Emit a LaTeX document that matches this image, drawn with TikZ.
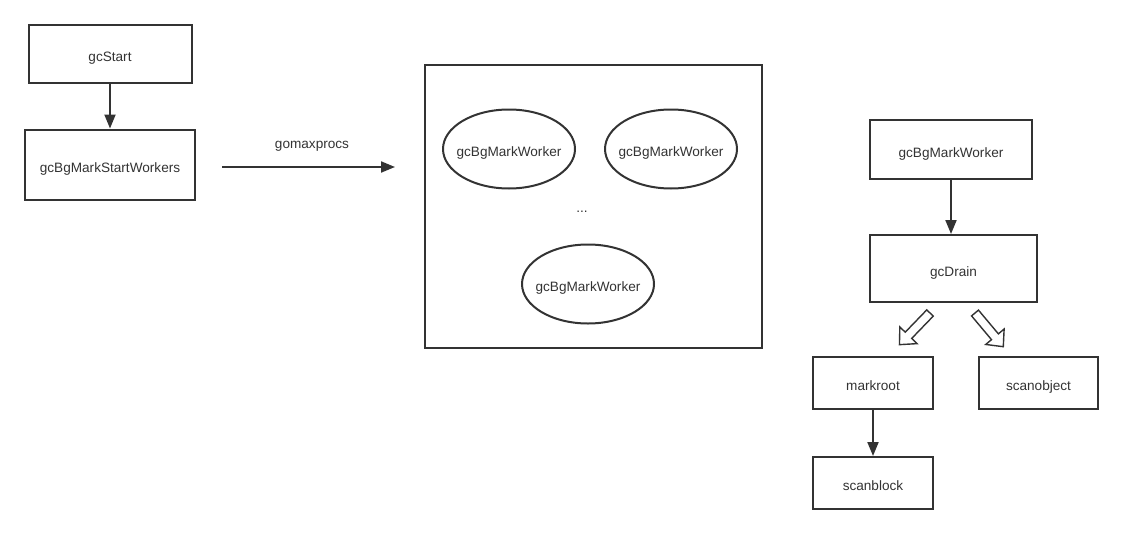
\documentclass[tikz,border=0pt]{standalone}
\usepackage{fontspec}
\setmainfont{Liberation Sans}
\usetikzlibrary{arrows.meta,shapes.geometric}
\definecolor{ink}{HTML}{333333}
\tikzset{
  box/.style={draw=ink, line width=2pt, text=ink, minimum width=#1, inner sep=0pt, text height=15pt, text depth=0pt},
  worker/.style={ellipse, draw=ink, line width=2pt, text=ink, minimum width=132pt, minimum height=79pt, inner sep=0pt, text height=14pt, text depth=0pt},
  flow/.style={draw=ink, line width=2pt, -{Triangle[length=14pt,width=11pt]}},
  label/.style={text=ink, anchor=base}
}
% hollow arrow: start point, angle
\newcommand{\hollowarrow}[2]{%
  \draw[ink, line width=1.4pt, fill=white, shift={(#1)}, rotate=#2]
    (0,-4.5) -- (31,-4.5) -- (31,-12) -- (44,0) -- (31,12) -- (31,4.5) -- (0,4.5) -- cycle;}
\begin{document}
\begin{tikzpicture}[x=1pt,y=-1pt,font=\fontsize{13.6pt}{16pt}\selectfont]
  \useasboundingbox (0,0) rectangle (1123,535);
  % left side
  \node[box=163pt, minimum height=58pt] (start) at (110,54) {gcStart};
  \node[box=170pt, minimum height=70pt] (workers) at (110,164.5) {gcBgMarkStartWorkers};
  \draw[flow] (start) -- (workers);
  \coordinate (from) at (222,167);
  \coordinate (to) at (395,167);
  \draw[flow] (from) -- (to);
  \node[label] (procs) at (312,148) {gomaxprocs};
  % worker pool
  \node[box=337pt, minimum height=283pt] (pool) at (593.5,206.5) {};
  \node[worker] (w1) at (509,149) {\makebox[0pt]{gcBgMarkWorker}};
  \node[worker] (w2) at (671,149) {\makebox[0pt]{gcBgMarkWorker}};
  \node[worker] (w3) at (588,284) {\makebox[0pt]{gcBgMarkWorker}};
  \node[label] (dots) at (582,212) {...};
  % right side
  \node[box=162pt, minimum height=59pt] (bg) at (951,149.5) {gcBgMarkWorker};
  \node[box=167pt, minimum height=67pt] (drain) at (953.5,268.5) {gcDrain};
  \node[box=120pt, minimum height=52pt] (markroot) at (873,383) {markroot};
  \node[box=119pt, minimum height=52pt] (scanobj) at (1038.5,383) {scanobject};
  \node[box=120pt, minimum height=52pt] (scanblock) at (873,483) {scanblock};
  \draw[flow] (bg.south) -- (bg.south |- drain.north);
  \draw[flow] (markroot) -- (scanblock);
  \coordinate (dl) at (930,313);
  \coordinate (dr) at (975,313);
  \hollowarrow{dl}{226}
  \hollowarrow{dr}{310}
\end{tikzpicture}
\end{document}
